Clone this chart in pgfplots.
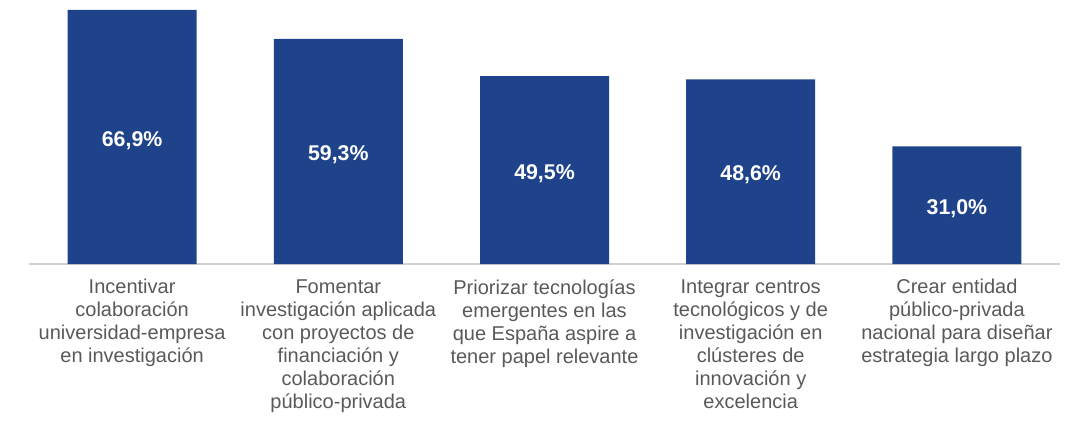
\documentclass[border=0pt]{standalone}
\usepackage{fontspec}
\setmainfont{Liberation Sans}
\usepackage{pgfplots}
\pgfplotsset{compat=1.18}
\usepackage{pgfplotstable}
\definecolor{barblue}{RGB}{30,67,139}
\definecolor{labgray}{RGB}{89,89,89}
\definecolor{axgray}{RGB}{208,208,208}

\pgfplotstableread{
x v
0 66.9
1 59.3
2 49.5
3 48.6
4 31.0
}\datatable

\begin{document}
\begin{tikzpicture}
\begin{axis}[
  scale only axis,
  width=773.25pt, height=190.5pt,
  xmin=-0.5, xmax=4.5, ymin=0, ymax=66.9,
  axis y line=none, axis x line*=bottom,
  x axis line style={draw=axgray, line width=1pt, -},
  major tick length=0pt,
  xtick=data,
  xticklabels={
    {Incentivar\\colaboración\\universidad-empresa\\en investigación},
    {Fomentar\\investigación aplicada\\con proyectos de\\financiación y\\colaboración\\público-privada},
    {Priorizar tecnologías\\emergentes en las\\que España aspire a\\tener papel relevante},
    {Integrar centros\\tecnológicos y de\\investigación en\\clústeres de\\innovación y\\excelencia},
    {Crear entidad\\público-privada\\nacional para diseñar\\estrategia largo plazo}},
  xticklabel style={align=center, font=\fontsize{15pt}{17.25pt}\selectfont, text=labgray, yshift=-8pt},
  /pgf/number format/assume math mode=true,
  clip=false,
]
\addplot[ybar, bar width=96.75pt, fill=barblue, draw=none] table[x=x, y=v] {\datatable};
\addplot[only marks, mark=none, point meta=\thisrow{v}, y filter/.expression={y/2},
  nodes near coords={\pgfmathprintnumber[fixed,fixed zerofill,precision=1,use comma]{\pgfplotspointmeta}\%},
  nodes near coords align=center,
  every node near coord/.append style={font=\fontsize{16pt}{18pt}\selectfont\bfseries, text=white, anchor=center, yshift=-2.5pt}]
  table[x=x, y=v] {\datatable};
\end{axis}
\useasboundingbox ([xshift=-21.75pt,yshift=-124.1pt]current axis.south west) rectangle ([xshift=20.25pt,yshift=7.5pt]current axis.north east);
\end{tikzpicture}
\end{document}
